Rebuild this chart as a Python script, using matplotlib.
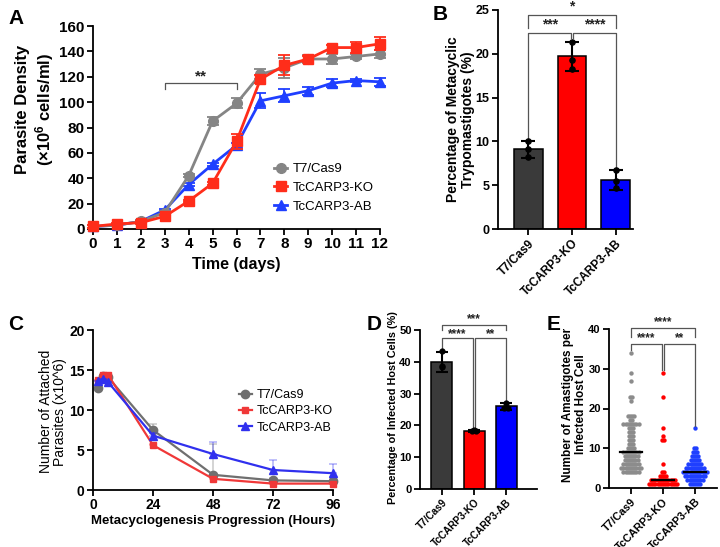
import numpy as np
import matplotlib
matplotlib.use('Agg')
import matplotlib.pyplot as plt
from matplotlib.lines import Line2D

plt.rcParams['font.family'] = ['Liberation Sans', 'DejaVu Sans']
plt.rcParams['mathtext.fontset'] = 'custom'
plt.rcParams['mathtext.rm'] = 'Liberation Sans'
plt.rcParams['mathtext.bf'] = 'Liberation Sans:bold'
plt.rcParams['mathtext.it'] = 'Liberation Sans:italic'

# ---------------- data ----------------
groups = ['T7/Cas9', 'TcCARP3-KO', 'TcCARP3-AB']

# Panel A: growth curve
days = list(range(13))
a_t7 = [2, 3, 6, 13, 42, 85, 99, 122, 127, 134, 134, 136, 138]
a_t7_err = [1, 1, 1, 1, 1, 3, 4, 4, 8, 3, 4, 2, 3]
a_ko = [2, 4, 5, 10, 22, 36, 69, 118, 129, 134, 143, 143, 146]
a_ko_err = [1, 1, 1, 1, 1, 1, 6, 3, 8, 2, 2, 4, 5]
a_ab = [2, 3, 6, 15, 35, 51, 66, 101, 105, 109, 115, 117, 116]
a_ab_err = [1, 1, 1, 1, 1, 1, 2, 6, 5, 3, 3, 1, 3]

# Panel B: metacyclic %
b_means = [9.1, 19.7, 5.6]
b_err = [1.0, 1.7, 1.1]
b_points = [[10.1, 9.1, 8.2], [21.4, 19.3, 18.3], [6.7, 5.5, 4.7]]

# Panel C: attached parasites
c_hours = [2, 4, 6, 24, 48, 72, 96]
c_t7 = [12.8, 14.2, 14.1, 7.5, 1.9, 1.2, 1.1]
c_t7_err = [0, 0, 0, 0.7, 3.9, 0.3, 0.3]
c_ko = [13.7, 14.4, 14.4, 5.6, 1.4, 0.8, 0.8]
c_ko_err = [0, 0, 0, 0.2, 0.2, 0.2, 0.2]
c_ab = [13.6, 13.9, 13.5, 6.8, 4.5, 2.5, 2.1]
c_ab_err = [0, 0, 0, 0.3, 1.5, 1.3, 1.1]

# Panel D: infected host cells %
d_means = [40.0, 18.3, 26.0]
d_err = [3.2, 0.3, 1.0]
d_points = [[43.3, 38.5, 38.6], [18.6, 18.2, 18.3], [27.0, 25.5, 25.6]]

# Panel E: amastigotes per infected cell (value: count)
e_t7_vals = [34, 29, 27, 23, 22, 18, 17, 16, 15, 14, 13, 12, 11, 10, 9, 8, 7, 6, 5, 4]
e_t7_cnts = [1, 1, 1, 2, 1, 4, 2, 8, 3, 3, 3, 3, 3, 4, 8, 7, 7, 8, 10, 8]
e_ko_vals = [29, 23, 15, 13, 12, 6, 4, 3, 2, 1]
e_ko_cnts = [1, 1, 1, 1, 2, 1, 2, 4, 12, 14]
e_ab_vals = [15, 10, 9, 8, 7, 6, 5, 4, 3, 2, 1]
e_ab_cnts = [1, 2, 3, 4, 5, 7, 9, 12, 10, 8, 6]

# ---------------- style ----------------
GRAY_A, RED_A, BLUE_A = '#858585', '#ff2d1a', '#1f3fff'
BAR_COLS = ['#3a3a3a', '#ff0000', '#0000ff']
BRK = '#555555'

W, H = 720, 547
fig = plt.figure(figsize=(7.2, 5.47), dpi=100)
fig.patch.set_facecolor('white')


def px_axes(l, t, r, b):
    return fig.add_axes([l / W, 1 - b / H, (r - l) / W, (b - t) / H])


def style_axes(ax, fs, fsx=None, lw=1.3, tl=4):
    for s in ['top', 'right']:
        ax.spines[s].set_visible(False)
    for s in ['left', 'bottom']:
        ax.spines[s].set_linewidth(lw)
    ax.tick_params(length=tl, width=lw, labelsize=fs, pad=2)
    if fsx is not None:
        ax.tick_params(axis='x', labelsize=fsx)
    for lbl in ax.get_xticklabels() + ax.get_yticklabels():
        lbl.set_fontweight('bold')


def bracket(ax, x1, x2, y, l1, l2, text, fs, toff):
    ax.plot([x1, x1, x2, x2], [l1, y, y, l2], color=BRK, lw=0.9, clip_on=False)
    ax.text((x1 + x2) / 2, y + toff, text, ha='center', va='center',
            fontsize=fs, fontweight='bold', color='#222222', clip_on=False)


# ================= Panel A =================
axA = px_axes(93, 26, 380, 229)
specs = [(a_ab, a_ab_err, BLUE_A, '^', 7.5, 2),
         (a_t7, a_t7_err, GRAY_A, 'o', 7, 3),
         (a_ko, a_ko_err, RED_A, 's', 6.5, 4)]
for y, e, c, m, ms, z in specs:
    axA.errorbar(days, y, yerr=e, color=c, marker=m, ms=ms, lw=2,
                 capsize=4, elinewidth=1.3, capthick=1.3, zorder=z, clip_on=False)
axA.set_xlim(0, 12)
axA.set_ylim(0, 160)
axA.set_xticks(days)
axA.set_yticks(range(0, 161, 20))
style_axes(axA, 11)
axA.set_xlabel('Time (days)', fontsize=11.5, fontweight='bold')
axA.xaxis.set_label_coords(0.5, -0.14)
axA.set_ylabel('Parasite Density\n(×10$^{\\mathbf{6}}$ cells/ml)', fontsize=12,
               fontweight='bold', linespacing=1.15)
axA.yaxis.set_label_coords(-0.13, 0.59)
bracket(axA, 3, 6, 115, 110, 110, '**', 11, 5)
handles = [Line2D([], [], color=GRAY_A, marker='o', ms=7, lw=2),
           Line2D([], [], color=RED_A, marker='s', ms=6.5, lw=2),
           Line2D([], [], color=BLUE_A, marker='^', ms=7.5, lw=2)]
fig.legend(handles, groups, loc='upper left', bbox_to_anchor=(274 / W, 1 - 163 / H),
           frameon=False, fontsize=9.5, handlelength=1.0, handletextpad=0.4,
           labelspacing=0.5, borderpad=0, borderaxespad=0)
fig.text(8 / W, 1 - 18 / H, 'A', fontsize=15, fontweight='bold', va='center')


# ================= bar panels =================
def bar_panel(ax, means, err, pts, fs_tick, fs_x, ymax, ystep, capsize, dot):
    x = np.arange(3)
    ax.bar(x, means, width=0.65, color=BAR_COLS, edgecolor='black', lw=1.1, zorder=2)
    ax.errorbar(x, means, yerr=err, fmt='none', ecolor='black', elinewidth=1.5,
                capsize=capsize, capthick=1.5, zorder=3)
    for i, p in enumerate(pts):
        offs = [0.0, -0.06, 0.06] if len(set(np.round(p[1:], 0))) == 1 else [0, 0, 0]
        ax.scatter(x[i] + np.array(offs), p, s=dot, color='black', zorder=4)
    ax.set_ylim(0, ymax)
    ax.set_yticks(np.arange(0, ymax + 0.1, ystep))
    ax.set_xticks(x)
    ax.set_xticklabels(groups, rotation=45, ha='right', rotation_mode='anchor')
    style_axes(ax, fs_tick, fs_x)


# ================= Panel B =================
axB = px_axes(498, 10, 633, 229)
bar_panel(axB, b_means, b_err, b_points, 9, 8.5, 25, 5, 5, 14)
axB.set_xlim(-0.7, 2.4)
axB.set_ylabel('Percentage of Metacyclic\nTrypomastigotes (%)', fontsize=10,
               fontweight='bold', linespacing=1.1)
axB.yaxis.set_label_coords(-0.17, 0.5)
bracket(axB, 0, 0.97, 22.4, 10.4, 21.8, '***', 10, 1.0)
bracket(axB, 1.03, 2, 22.4, 21.8, 7.0, '****', 10, 1.0)
bracket(axB, 0, 2, 24.4, 23.0, 23.0, '*', 10, 1.0)
fig.text(433 / W, 1 - 15 / H, 'B', fontsize=15, fontweight='bold', va='center')

# ================= Panel C =================
axC = px_axes(93, 330, 333, 490)
cspecs = [(c_t7, c_t7_err, '#6f6f6f', 'o', 6),
          (c_ko, c_ko_err, '#f03838', 's', 5),
          (c_ab, c_ab_err, '#3030ee', '^', 5.5)]
for y, e, c, m, ms in cspecs:
    axC.errorbar(c_hours, y, yerr=[np.zeros(len(e)), e], fmt='none', ecolor=c,
                 alpha=0.35, elinewidth=1.2, capsize=3, capthick=1.2, clip_on=False)
    axC.plot(c_hours, y, color=c, marker=m, ms=ms, lw=1.6, clip_on=False)
axC.set_xlim(0, 96)
axC.set_ylim(0, 20)
axC.set_xticks([0, 24, 48, 72, 96])
axC.set_yticks([0, 5, 10, 15, 20])
style_axes(axC, 10, lw=1.3)
axC.set_xlabel('Metacyclogenesis Progression (Hours)', fontsize=9.5, fontweight='bold')
axC.xaxis.set_label_coords(0.5, -0.155)
axC.set_ylabel('Number of Attached\nParasites (x10^6)', fontsize=10, linespacing=1.05)
axC.yaxis.set_label_coords(-0.108, 0.49)
chandles = [Line2D([], [], color='#6f6f6f', marker='o', ms=6, lw=1.6),
            Line2D([], [], color='#f03838', marker='s', ms=5, lw=1.6),
            Line2D([], [], color='#3030ee', marker='^', ms=5.5, lw=1.6)]
fig.legend(chandles, groups, loc='upper left', bbox_to_anchor=(239 / W, 1 - 389 / H),
           frameon=False, fontsize=9, handlelength=1.0, handletextpad=0.4,
           labelspacing=0.35, borderpad=0, borderaxespad=0)
fig.text(8 / W, 1 - 325 / H, 'C', fontsize=15, fontweight='bold', va='center')

# ================= Panel D =================
axD = px_axes(420, 330, 537, 489)
bar_panel(axD, d_means, d_err, d_points, 8, 7.2, 50, 10, 4, 12)
axD.set_xlim(-0.68, 2.95)
axD.set_ylabel('Percentage of Infected Host Cells (%)', fontsize=7.8, fontweight='bold')
axD.yaxis.set_label_coords(-0.19, 0.51)
bracket(axD, 0, 0.97, 47.5, 44.0, 19.0, '****', 8.5, 1.3)
bracket(axD, 1.03, 2, 47.5, 19.0, 27.5, '**', 8.5, 1.3)
bracket(axD, 0, 2, 51.6, 50.0, 50.0, '***', 8.5, 1.8)
fig.text(367 / W, 1 - 325 / H, 'D', fontsize=15, fontweight='bold', va='center')

# ================= Panel E =================
axE = px_axes(609, 329, 717, 488)
e_cols = ['#8c8c8c', '#ff0000', '#1f3fff']
for gi, (vals, cnts) in enumerate([(e_t7_vals, e_t7_cnts), (e_ko_vals, e_ko_cnts),
                                   (e_ab_vals, e_ab_cnts)]):
    xs, ys = [], []
    for v, n in zip(vals, cnts):
        offs = (np.arange(n) - (n - 1) / 2) * 0.068
        xs.extend(gi + offs)
        ys.extend([v] * n)
    axE.scatter(xs, ys, s=10, color=e_cols[gi], zorder=2, linewidths=0, clip_on=False)
    med = np.median(np.repeat(vals, cnts))
    axE.plot([gi - 0.35, gi + 0.35], [med, med], color='black', lw=1.6, zorder=3)
axE.set_xlim(-0.69, 2.69)
axE.set_ylim(0, 40)
axE.set_yticks([0, 10, 20, 30, 40])
axE.set_xticks([0, 1, 2])
axE.set_xticklabels(groups, rotation=45, ha='right', rotation_mode='anchor')
style_axes(axE, 8, 7.8)
axE.set_ylabel('Number of Amastigotes per\nInfected Host Cell', fontsize=8.5,
               fontweight='bold', linespacing=1.1)
axE.yaxis.set_label_coords(-0.205, 0.525)
bracket(axE, 0, 0.97, 36.2, 34.6, 29.6, '****', 8.5, 1.5)
bracket(axE, 1.03, 2, 36.2, 29.6, 15.6, '**', 8.5, 1.5)
bracket(axE, 0, 2, 40.3, 38.0, 38.0, '****', 8.5, 1.5)
fig.text(547 / W, 1 - 325 / H, 'E', fontsize=15, fontweight='bold', va='center')

fig.savefig('out.png', dpi=100, facecolor='white')
